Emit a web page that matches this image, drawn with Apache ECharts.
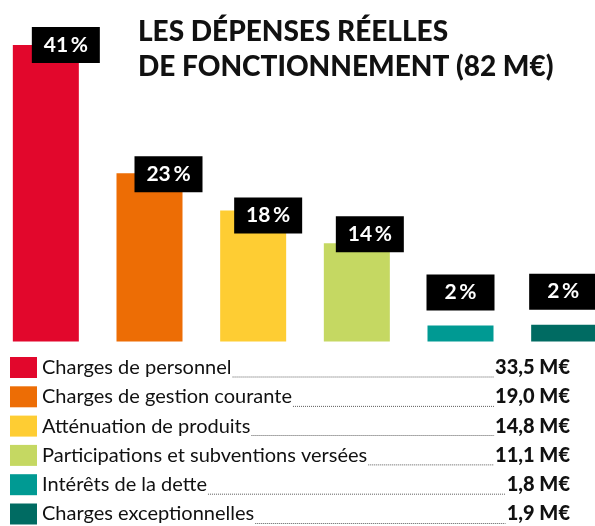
<!DOCTYPE html>
<html>
<head>
<meta charset="utf-8">
<script src="https://cdn.jsdelivr.net/npm/echarts@6/dist/echarts.min.js"></script>
<style>
html,body{margin:0;padding:0;background:#fff;}
#chart{width:595px;height:526px;}
</style>
</head>
<body>
<div id="chart"></div>
<script>
// ---- data ----
const titleLines = ['LES DÉPENSES RÉELLES', 'DE FONCTIONNEMENT (82 M€)'];
const categories = [
  'Charges de personnel',
  'Charges de gestion courante',
  'Atténuation de produits',
  'Participations et subventions versées',
  'Intérêts de la dette',
  'Charges exceptionnelles'
];
const amounts = [33.5, 19.0, 14.8, 11.1, 1.8, 1.9];   // M€
const percents = [41, 23, 18, 14, 2, 2];              // %
const colors = ['#E2072C', '#ED6D05', '#FECD33', '#C5D862', '#009A93', '#006B62'];

// ---- layout (not data) ----
const labelOffsets = [[53, 0], [52, 1], [48, 5], [46, -9], [33, -33], [32, -33]];
const FONT = 'Lato, "Noto Sans", sans-serif';

const chart = echarts.init(document.getElementById('chart'), null, {renderer: 'canvas'});

const measure = (function () {
  const c = document.createElement('canvas').getContext('2d');
  return function (text, font) { c.font = font; return c.measureText(text).width; };
})();

const amountText = v => v.toFixed(1).replace('.', ',') + ' M€';

const graphics = [];
const rowTop = 357, rowStep = 29.3;
const legendSize = 20;
categories.forEach(function (name, i) {
  const y0 = rowTop + i * rowStep;
  const base = y0 + 20.5;
  graphics.push({
    type: 'rect', shape: {x: 10, y: y0, width: 27, height: 21},
    style: {fill: colors[i]}, silent: true
  });
  const vt = amountText(amounts[i]);
  const tw = measure(name, 'normal ' + legendSize + 'px Lato');
  const vw = measure(vt, '900 ' + legendSize + 'px Lato');
  graphics.push({
    type: 'line',
    shape: {x1: 42 + tw + 1, y1: base - 0.5, x2: 570 - vw - 1, y2: base - 0.5},
    style: {stroke: '#333', lineWidth: 0.8, lineDash: [1, 1]}, silent: true
  });
  graphics.push({
    type: 'text', x: 42, y: base,
    style: {text: name, font: 'normal ' + legendSize + 'px Lato', fill: '#111',
      textAlign: 'left', textVerticalAlign: 'bottom', align: 'left', verticalAlign: 'bottom'},
    silent: true
  });
  graphics.push({
    type: 'text', x: 570, y: base,
    style: {text: vt, font: '900 ' + legendSize + 'px Lato', fill: '#111',
      textAlign: 'right', textVerticalAlign: 'bottom', align: 'right', verticalAlign: 'bottom'},
    silent: true
  });
});

const seriesData = amounts.map(function (v, i) {
  return {
    value: v,
    itemStyle: {color: colors[i]},
    label: {position: labelOffsets[i]}
  };
});

chart.setOption({
  animation: false,
  title: {
    text: titleLines.join('\n'),
    left: 133, top: 9,
    textStyle: {fontFamily: FONT, fontSize: 28, fontWeight: 900, color: '#111', lineHeight: 35}
  },
  grid: {left: -6, width: 622, top: 45, height: 296.5, outerBoundsMode: 'none', containLabel: false},
  xAxis: {type: 'category', data: categories, show: false},
  yAxis: {type: 'value', min: 0, max: 33.5, show: false},
  graphic: graphics,
  series: [{
    type: 'bar',
    barWidth: 66,
    data: seriesData,
    label: {
      show: true,
      formatter: function (p) { return percents[p.dataIndex] + '\u2009%'; },
      color: '#fff',
      fontFamily: FONT,
      fontSize: 21,
      fontWeight: 'bold',
      backgroundColor: '#000',
      width: 68, height: 36, lineHeight: 36,
      align: 'center', verticalAlign: 'middle'
    }
  }]
});
</script>
</body>
</html>
